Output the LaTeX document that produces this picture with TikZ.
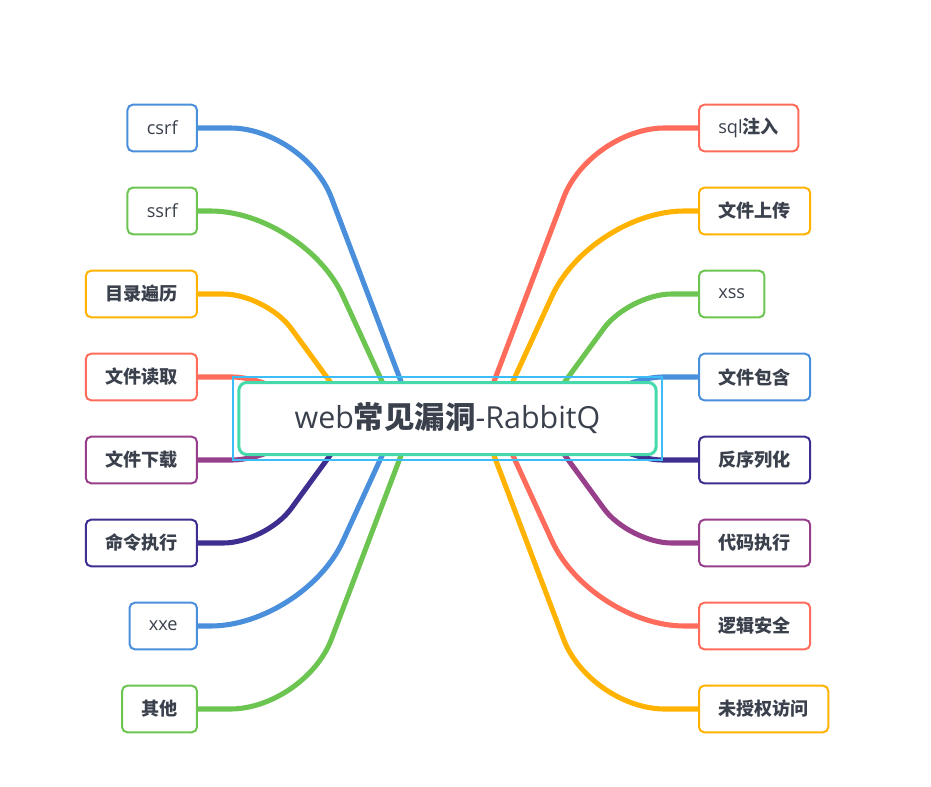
\documentclass[tikz,border=0pt]{standalone}
\usepackage{fontspec}
\setmainfont{Open Sans}
\newfontfamily\cjk{Noto Sans CJK SC}
\usepackage{tikz}
\usetikzlibrary{calc,backgrounds}
\definecolor{mblue}{HTML}{4A8FDB}
\definecolor{mgreen}{HTML}{6CC551}
\definecolor{myellow}{HTML}{FFB300}
\definecolor{mcoral}{HTML}{FF6C5C}
\definecolor{mpurple}{HTML}{973F8B}
\definecolor{mindigo}{HTML}{3D2E8F}
\definecolor{rootteal}{HTML}{45D9AC}
\definecolor{selblue}{HTML}{3CBDF8}
\definecolor{textgray}{HTML}{3A414C}
\newcommand\zh[1]{{\cjk\bfseries #1}}
\newcommand\leaffont{\fontsize{13.6pt}{15pt}\selectfont}
\newcommand\rootfont{\fontsize{22.8pt}{26pt}\selectfont}
\tikzset{
  leaf/.style={draw=#1,fill=white,rounded corners=4pt,line width=1.5pt,minimum height=35pt,inner xsep=14.5pt,inner ysep=0pt,text=textgray,font=\leaffont},
  root/.style={draw=rootteal,fill=white,rounded corners=6pt,line width=2.25pt,minimum width=313pt,minimum height=54pt,text=textgray,font=\rootfont},
  selbox/.style={draw=selblue,line width=1.5pt},
  branch/.style={draw=#1,line width=3.8pt,line cap=round}
}

\begin{document}
\begin{tikzpicture}[x=0.75pt,y=0.75pt]
\useasboundingbox (-447.5,-367.5) rectangle (483.5,418.5);
\node[root] (root) at (0,0) {web\zh{常见漏洞}-RabbitQ};
\draw[selbox] ([shift={(-4.5,4.5)}]root.north west) rectangle ([shift={(4.5,-3.5)}]root.south east);
% left branches
\foreach \nm/\txt/\col/\lv/\sg in {csrf/csrf/mblue/3/1,ssrf/ssrf/mgreen/2/1,mulu/\zh{目录遍历}/myellow/1/1,duqu/\zh{文件读取}/mcoral/0/1,xiazai/\zh{文件下载}/mpurple/0/-1,mingling/\zh{命令执行}/mindigo/1/-1,xxe/xxe/mblue/2/-1,qita/\zh{其他}/mgreen/3/-1}{
  \pgfmathsetmacro{\ly}{\sg*(41.5+83*\lv)}
  \pgfmathsetmacro{\sx}{{110,90.5,48.5,32.5}[\lv]}
  \pgfmathsetmacro{\kx}{{195,181.5,143.5,142.5}[\lv]}
  \pgfmathsetmacro{\rr}{{15,32,70,56}[\lv]}
  \node[leaf=\col,anchor=east] (\nm) at (-249.5,\ly) {\txt};
  \begin{scope}[on background layer]
    \draw[branch=\col,rounded corners=\rr pt] (\nm.east) -- ($(root.center)+(-\kx,\ly)$) -- ($(root.center)+(-\sx,0)$);
  \end{scope}
}
% right branches
\foreach \nm/\txt/\col/\lv/\sg in {sql/sql\zh{注入}/mcoral/3/1,shangchuan/\zh{文件上传}/myellow/2/1,xss/xss/mgreen/1/1,baohan/\zh{文件包含}/mblue/0/1,fanxulie/\zh{反序列化}/mindigo/0/-1,daima/\zh{代码执行}/mpurple/1/-1,luoji/\zh{逻辑安全}/mcoral/2/-1,weishouquan/\zh{未授权访问}/myellow/3/-1}{
  \pgfmathsetmacro{\ly}{\sg*(41.5+83*\lv)}
  \pgfmathsetmacro{\sx}{{110,90.5,48.5,32.5}[\lv]}
  \pgfmathsetmacro{\kx}{{195,181.5,143.5,142.5}[\lv]}
  \pgfmathsetmacro{\rr}{{15,32,70,56}[\lv]}
  \node[leaf=\col,anchor=west] (\nm) at (250.5,\ly) {\txt};
  \begin{scope}[on background layer]
    \draw[branch=\col,rounded corners=\rr pt] (\nm.west) -- ($(root.center)+(\kx,\ly)$) -- ($(root.center)+(\sx,0)$);
  \end{scope}
}
\end{tikzpicture}
\end{document}
